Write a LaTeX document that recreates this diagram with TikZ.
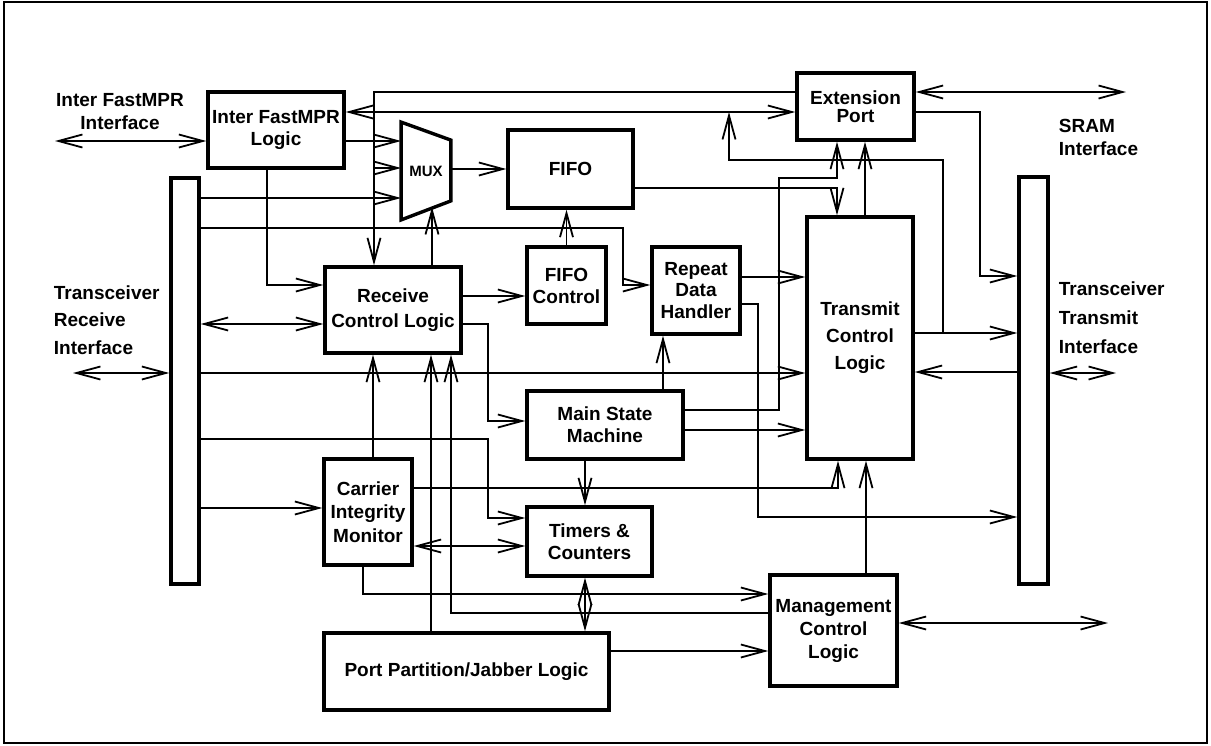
\documentclass[tikz,border=0pt]{standalone}
\usepackage{fontspec}
\setmainfont{Liberation Sans}
\usetikzlibrary{arrows.meta}

\begin{document}
\begin{tikzpicture}[x=1pt, y=-1pt, >={Straight Barb[length=24pt,width=13pt]},
    line width=1.8pt,
    blk/.style={draw, line width=3.4pt, inner sep=0pt, align=center,
        font=\bfseries\fontsize{19}{#1}\selectfont},
    blk/.default=22,
    bus/.style={draw, line width=3.4pt, inner sep=0pt, minimum width=28pt},
    lbl/.style={inner sep=0pt, font=\bfseries\fontsize{19}{#1}\selectfont}]

    \useasboundingbox (0,0) rectangle (1211,745);
    \draw[line width=2pt] (4,2) rectangle (1207,743);

    \node[blk, minimum width=136pt, minimum height=76pt] (ifl) at (276,130) {Inter FastMPR\\Logic};
    \node[blk=18, minimum width=117pt, minimum height=67pt] (ext) at (855.5,106.5) {Extension\\Port};
    \node[blk, minimum width=125pt, minimum height=78pt] (fifo) at (570.5,169) {FIFO};
    \node[blk, minimum width=79pt, minimum height=77pt] (fctl) at (566.5,285.5) {FIFO\\Control};
    \node[blk=21.5, minimum width=88pt, minimum height=87pt] (rdh) at (696,290.5) {Repeat\\Data\\Handler};
    \node[blk=27, minimum width=106pt, minimum height=242pt] (tcl) at (860,338) {Transmit\\Control\\Logic};
    \node[blk=25, minimum width=136pt, minimum height=86pt] (rcl) at (393,310) {Receive\\Control Logic};
    \node[blk, minimum width=156pt, minimum height=68pt] (msm) at (605,425) {Main State\\Machine};
    \node[blk=23.5, minimum width=88pt, minimum height=106pt] (cim) at (368,512) {Carrier\\Integrity\\Monitor};
    \node[blk, minimum width=125pt, minimum height=69pt] (tmr) at (589.5,541.5) {Timers \&\\Counters};
    \node[blk=23, minimum width=127pt, minimum height=111pt] (mcl) at (833.5,630.5) {Management\\Control\\Logic};
    \node[blk, minimum width=285pt, minimum height=77pt] (ppj) at (466.5,671.5) {Port Partition/Jabber Logic};

    \node[bus, minimum height=406pt] (rxbus) at (185,381) {};
    \node[bus, minimum height=407pt, minimum width=29pt] (txbus) at (1033.5,380.5) {};

    \node[inner sep=0pt, minimum width=48pt, minimum height=96pt,
        font=\bfseries\fontsize{15}{18}\selectfont] (mux) at (426,171) {MUX};
    \draw[line width=3.4pt] (mux.north west) -- ([yshift=-18pt]mux.north east)
        -- ([yshift=19pt]mux.south east) -- (mux.south west) -- cycle;

    \node[lbl=23, align=center] (ifitxt) at (120,112) {Inter FastMPR\\Interface};
    \node[lbl=23, align=left, anchor=west] (sramtxt) at (1058,137) {SRAM\\Interface};
    \node[lbl=27.5, align=left, anchor=west] (rxtxt) at (53,320) {Transceiver\\Receive\\Interface};
    \node[lbl=29, align=left, anchor=west] (txtxt) at (1058,318) {Transceiver\\Transmit\\Interface};

    \coordinate (ifiend) at (55,141);
    \coordinate (rxend) at (73,373);
    \coordinate (txend) at (1116,373);
    \coordinate (sramend) at (1126,92);
    \coordinate (mgtend) at (1108,623);
    \coordinate (muxin) at (432,207);
    \coordinate (tap) at (729,112);

    \draw[<->] (ifiend) -- (ifl.west |- ifiend);
    \draw[<->] (ifl.east |- tap) -- (ext.west |- tap);
    \draw[->] (ext.west |- 0,92) -| (rcl.north -| 374,0);
    \draw[->] (374,168) -- (mux.west |- 0,168);
    \draw[->] (ifl.east |- 0,141) -- (mux.west |- 0,141);
    \draw[->] (rxbus.east |- 0,198) -- (mux.west |- 0,198);
    \draw[->] (rxbus.east |- 0,228) -- (623,228) |- (rdh.west |- 0,285);
    \draw[->] (rcl.north -| muxin) -- (muxin);
    \draw[->] (mux.east |- 0,169) -- (fifo.west |- 0,169);
    \draw[->] (fifo.east |- 0,188) -| (tcl.north -| 837,0);
    \draw[->] (fctl.north) -- (fctl.north |- fifo.south);
    \draw[->] (ifl.south -| 267,0) |- (rcl.west |- 0,285);
    \draw[<->] (rxbus.east |- 0,324) -- (rcl.west |- 0,324);
    \draw[->] (rcl.east |- 0,296) -- (fctl.west |- 0,296);
    \draw[->] (rcl.east |- 0,324) -- (488,324) |- (msm.west |- 0,421);
    \draw[->] (rxbus.east |- rxend) -- (tcl.west |- rxend);
    \draw[<->] (rxend) -- (rxbus.west |- rxend);
    \draw[->] (msm.north -| 663,0) -- (rdh.south -| 663,0);
    \draw[->] (rdh.east |- 0,277) -- (tcl.west |- 0,277);
    \draw[->] (rdh.east |- 0,304) -- (758,304) |- (txbus.west |- 0,517);
    \draw[->] (msm.east |- 0,410) -| (779,178) -| (ext.south -| 837,0);
    \draw[->] (msm.east |- 0,430) -- (tcl.west |- 0,430);
    \draw[->] (tcl.north -| 865,0) -- (ext.south -| 865,0);
    \draw[->] (tcl.east |- 0,333) -- (txbus.west |- 0,333);
    \draw[->] (943,333) |- (729,160) -- (tap);
    \draw[->] (txbus.west |- 0,372) -- (tcl.east |- 0,372);
    \draw[<->] (txbus.east |- txend) -- (txend);
    \draw[->] (ext.east |- tap) -- (980,112) |- (txbus.west |- 0,276);
    \draw[<->] (ext.east |- sramend) -- (sramend);
    \draw[->] (rxbus.east |- 0,439) -- (488,439) |- (tmr.west |- 0,518);
    \draw[->] (rxbus.east |- 0,508) -- (cim.west |- 0,508);
    \draw[->] (cim.north -| 373,0) -- (rcl.south -| 373,0);
    \draw[->] (cim.east |- 0,488) -| (tcl.south -| 838,0);
    \draw[<->] (cim.east |- 0,546) -- (tmr.west |- 0,546);
    \draw[->] (cim.south -| 363,0) |- (mcl.west |- 0,594);
    \draw[->] (ppj.north -| 431,0) -- (rcl.south -| 431,0);
    \draw[->] (mcl.west |- 0,613) -| (rcl.south -| 451,0);
    \draw[->] (msm.south -| 585,0) -- (tmr.north -| 585,0);
    \draw[<->] (tmr.south -| 585,0) -- (ppj.north -| 585,0);
    \draw[->] (ppj.east |- 0,651) -- (mcl.west |- 0,651);
    \draw[->] (mcl.north -| 866,0) -- (tcl.south -| 866,0);
    \draw[<->] (mcl.east |- mgtend) -- (mgtend);

\end{tikzpicture}
\end{document}
